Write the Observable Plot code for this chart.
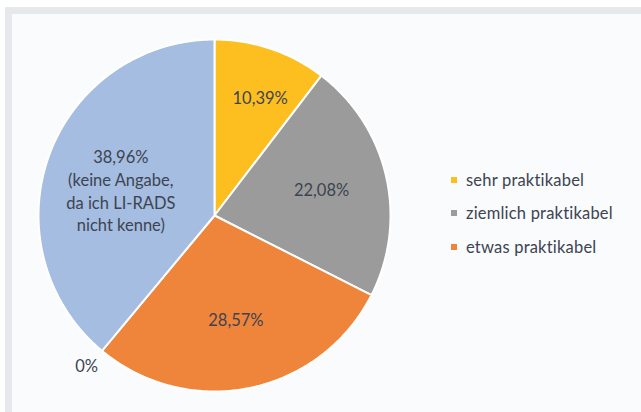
<!DOCTYPE html>
<html>
<head>
<meta charset="utf-8">
<script src="https://cdn.jsdelivr.net/npm/d3@7"></script>
<script src="https://cdn.jsdelivr.net/npm/@observablehq/plot@0.6"></script>
<style>
  html, body { margin: 0; padding: 0; background: #ffffff; }
  #wrap { position: relative; width: 641px; height: 412px; overflow: hidden; background: #ffffff; font-family: Lato, "Open Sans", sans-serif; }
  #frame { position: absolute; left: 5px; top: 7px; right: 0; bottom: 0; background: #e7e8eb; }
  #panel { position: absolute; left: 12px; top: 14px; right: 0; bottom: 0; background: #fafbfd; }
  #chart { position: absolute; left: 0; top: 0; }
  #legend { position: absolute; left: 451px; top: 163px; color: #3d4450; font-size: 16.5px; letter-spacing: 0.2px; }
  .item { display: flex; align-items: center; height: 33.5px; }
  .sw { width: 6px; height: 6px; margin-right: 9px; }
</style>
</head>
<body>
<div id="wrap">
  <div id="frame"></div>
  <div id="panel"></div>
  <div id="chart"></div>
  <div id="legend"></div>
</div>
<script>
// Data
const categories = ["sehr praktikabel", "ziemlich praktikabel", "etwas praktikabel", "wenig praktikabel", "keine Angabe"];
const values = [10.39, 22.08, 28.57, 0, 38.96];
const labels = ["10,39%", "22,08%", "28,57%", "0%", "38,96%\n(keine Angabe,\nda ich LI-RADS\nnicht kenne)"];
const colors = ["#fdbf20", "#9b9b9b", "#ef843b", "#5b7fc0", "#a4bde1"];
const legendCategories = ["sehr praktikabel", "ziemlich praktikabel", "etwas praktikabel"];

// label placement per slice: fraction of radius, plus small pixel nudges
const labelRadius = [0.72, 0.63, 0.60, 1.11, 0.56];
const labelDx = [5, -1, 0, -3, -1];
const labelDy = [1, -2, 0, -1, 8];

const pie = d3.pie().sort(null).value(d => d.value)(categories.map((c, i) => ({cat: c, value: values[i], i})));

const polys = [];
pie.forEach(a => {
  if (a.endAngle - a.startAngle <= 0) return;
  const n = Math.max(2, Math.ceil((a.endAngle - a.startAngle) / 0.01));
  polys.push({k: a.data.cat, x: 0, y: 0, c: colors[a.data.i]});
  for (let j = 0; j <= n; j++) {
    const t = a.startAngle + (a.endAngle - a.startAngle) * j / n;
    polys.push({k: a.data.cat, x: Math.sin(t), y: Math.cos(t), c: colors[a.data.i]});
  }
  polys.push({k: a.data.cat, x: 0, y: 0, c: colors[a.data.i]});
});

const labelMarks = pie.map(a => {
  const m = (a.startAngle + a.endAngle) / 2;
  const i = a.data.i;
  const r = labelRadius[i];
  return Plot.text([{x: r * Math.sin(m), y: r * Math.cos(m), text: labels[i]}], {
    x: "x", y: "y", text: "text", fill: "#3d4450", fontSize: 16.5, lineHeight: 1.38, letterSpacing: 0.3,
    dx: labelDx[i], dy: labelDy[i]
  });
});

const chart = Plot.plot({
  width: 641,
  height: 412,
  margin: 0,
  style: {background: "transparent", fontFamily: "Lato, 'Open Sans', sans-serif"},
  x: {domain: [-1, 1], range: [38, 390], axis: null},
  y: {domain: [-1, 1], range: [391, 39], axis: null},
  marks: [
    Plot.line(polys, {x: "x", y: "y", z: "k", fill: "c", stroke: "#ffffff", strokeWidth: 2, strokeLinejoin: "round", curve: "linear"}),
    ...labelMarks
  ]
});
document.getElementById("chart").appendChild(chart);

const legend = document.getElementById("legend");
legendCategories.forEach(c => {
  const i = categories.indexOf(c);
  const row = document.createElement("div");
  row.className = "item";
  const sw = document.createElement("span");
  sw.className = "sw";
  sw.style.background = colors[i];
  const tx = document.createElement("span");
  tx.textContent = c;
  row.appendChild(sw);
  row.appendChild(tx);
  legend.appendChild(row);
});
</script>
</body>
</html>
